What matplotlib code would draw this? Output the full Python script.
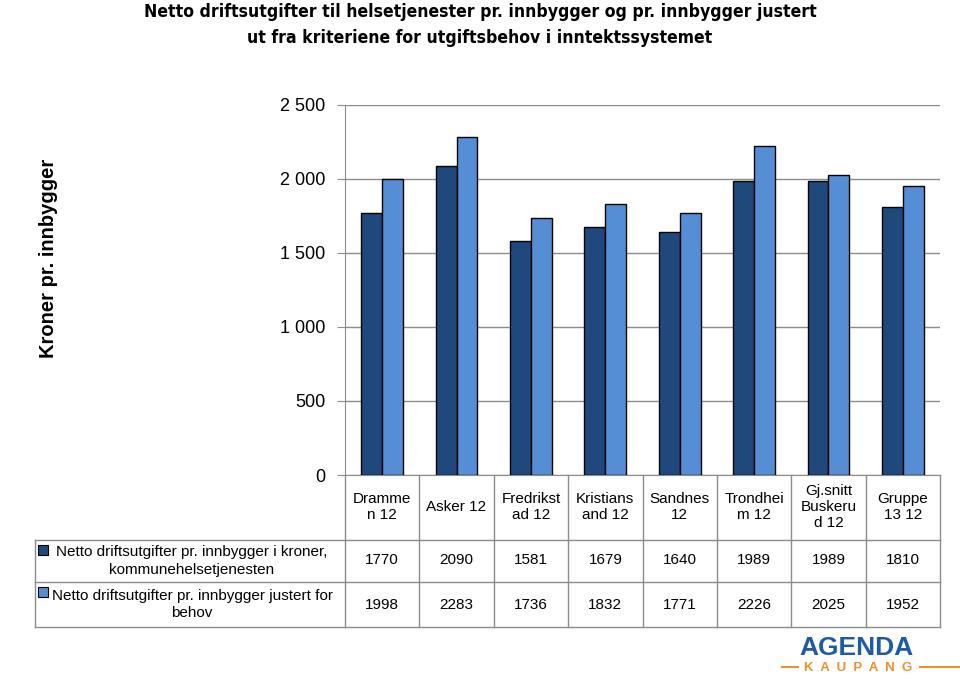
import numpy as np
import matplotlib.pyplot as plt
from matplotlib.lines import Line2D
from matplotlib.patches import Rectangle

categories = ["Dramme\nn 12", "Asker 12", "Fredrikst\nad 12", "Kristians\nand 12",
              "Sandnes\n12", "Trondhei\nm 12", "Gj.snitt\nBuskeru\nd 12", "Gruppe\n13 12"]
netto = [1770, 2090, 1581, 1679, 1640, 1989, 1989, 1810]
justert = [1998, 2283, 1736, 1832, 1771, 2226, 2025, 1952]
series_names = ["Netto driftsutgifter pr. innbygger i kroner,\nkommunehelsetjenesten",
                "Netto driftsutgifter pr. innbygger justert for\nbehov"]
yticks = [0, 500, 1000, 1500, 2000, 2500]

dark = '#1f497d'
light = '#558ed5'
grid = '#8c8c8c'

plt.rcParams['font.family'] = ['Liberation Sans', 'DejaVu Sans']

W, H = 960, 679
fig = plt.figure(figsize=(9.6, 6.79), dpi=100)

def fx(px):
    return px / W

def fy(py):
    return 1 - py / H

left, right, top, bottom = 345, 940, 105, 475
ax = fig.add_axes([fx(left), fy(bottom), fx(right) - fx(left), fy(top) - fy(bottom)])

n = len(categories)
x = np.arange(n)
bw = 0.28
ax.bar(x - bw / 2, netto, bw, color=dark, edgecolor='black', linewidth=1, zorder=3)
ax.bar(x + bw / 2, justert, bw, color=light, edgecolor='black', linewidth=1, zorder=3)

ax.set_xlim(-0.5, n - 0.5)
ax.set_ylim(0, 2500)
ax.set_yticks(yticks)
ax.set_yticklabels([f"{v:,}".replace(",", " ") for v in yticks], fontsize=13)
ax.yaxis.grid(True, color=grid, linewidth=1, zorder=0)
ax.set_xticks(np.arange(n + 1) - 0.5)
ax.set_xticklabels([])
ax.tick_params(axis='x', length=0)
ax.tick_params(axis='y', length=6, color=grid, pad=8)
for s in ['top', 'right']:
    ax.spines[s].set_visible(False)
for s in ['left', 'bottom']:
    ax.spines[s].set_color(grid)

# title and y label
title_kw = dict(ha='center', va='center', fontsize=12.6, fontweight='bold',
                family='DejaVu Sans', fontstretch='condensed')
fig.text(fx(480), fy(12), "Netto driftsutgifter til helsetjenester pr. innbygger og pr. innbygger justert",
         **title_kw)
fig.text(fx(480), fy(38), "ut fra kriteriene for utgiftsbehov i inntektssystemet", **title_kw)
fig.text(fx(49), fy(258), "Kroner pr. innbygger", rotation=90, ha='center', va='center',
         fontsize=14.5, fontweight='bold')

# data table
tl = dict(color=grid, linewidth=1, transform=fig.transFigure)
col_w = (right - left) / n
rows_y = [540, 582, 627]
for yy in rows_y:
    fig.add_artist(Line2D([fx(35), fx(right)], [fy(yy), fy(yy)], **tl))
fig.add_artist(Line2D([fx(35), fx(35)], [fy(540), fy(627)], **tl))
for i in range(n + 1):
    xx = left + i * col_w
    fig.add_artist(Line2D([fx(xx), fx(xx)], [fy(bottom), fy(627)], **tl))

for i in range(n):
    cx = left + (i + 0.5) * col_w
    fig.text(fx(cx), fy(507), categories[i], ha='center', va='center', fontsize=11, linespacing=1.15)
    fig.text(fx(cx), fy(560), str(netto[i]), ha='center', va='center', fontsize=11)
    fig.text(fx(cx), fy(605), str(justert[i]), ha='center', va='center', fontsize=11)

for (y0, y1), name, col in zip([(540, 582), (582, 627)], series_names, [dark, light]):
    fig.text(fx(192), fy((y0 + y1) / 2), name, ha='center', va='center', fontsize=11,
             linespacing=1.3)
    fig.add_artist(Rectangle((fx(38), fy(y0 + 15)), fx(10), 10 / H, facecolor=col,
                             edgecolor='black', linewidth=0.8, transform=fig.transFigure))

# logo
fig.text(fx(856), fy(648), "AGENDA", ha='center', va='center', fontsize=19, fontweight='bold',
         color='#1f5aa6')
fig.text(fx(858), fy(668), "K  A  U  P  A  N  G", ha='center', va='center', fontsize=9.5,
         fontweight='bold', color='#f0902a')
fig.add_artist(Line2D([fx(782), fx(798)], [fy(667), fy(667)], color='#f0902a', linewidth=1.5,
                      transform=fig.transFigure))
fig.add_artist(Line2D([fx(920), fx(960)], [fy(667), fy(667)], color='#f0902a', linewidth=1.5,
                      transform=fig.transFigure))

fig.savefig("out.png", dpi=100)
